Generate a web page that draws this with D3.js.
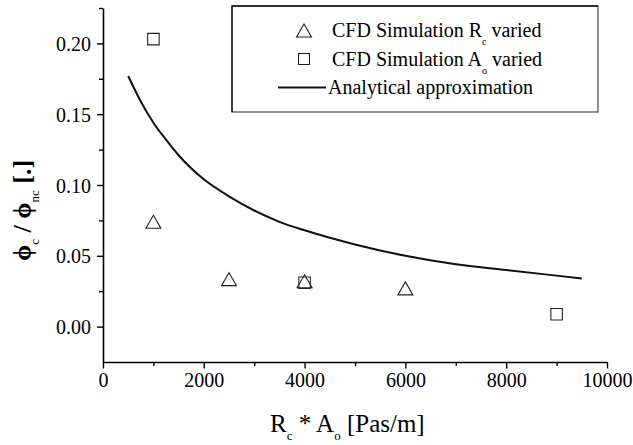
<!DOCTYPE html>
<html>
<head>
<meta charset="utf-8">
<script src="https://cdn.jsdelivr.net/npm/d3@7"></script>
<style>
  html, body { margin: 0; padding: 0; background: #fff; }
  svg { display: block; }
</style>
</head>
<body>
<svg id="chart" width="633" height="445"></svg>
<script>
// CFD results, R_c varied (x = R_c * A_o in Pas/m, y = phi_c / phi_nc)
const rcX = [1000, 2500, 4000, 6000];
const rcY = [0.074, 0.0335, 0.032, 0.027];

// CFD results, A_o varied
const aoX = [1000, 4000, 9000];
const aoY = [0.203, 0.031, 0.0087];

// Analytical approximation curve
const curveX = [500, 750, 1000, 1250, 1500, 2000, 2500, 3000, 3500, 4000, 5000, 6000, 7000, 8000, 9000, 9500];
const curveY = [0.177, 0.159, 0.144, 0.132, 0.121, 0.104, 0.092, 0.082, 0.074, 0.068, 0.058, 0.050, 0.044, 0.040, 0.036, 0.034];

// Axis ticks
const xTicks = [0, 2000, 4000, 6000, 8000, 10000];
const xMinor = [1000, 3000, 5000, 7000, 9000];
const yTicks = [0.00, 0.05, 0.10, 0.15, 0.20];
const yMinor = [0.025, 0.075, 0.125, 0.175, 0.225];

const legendLabels = [
  { main: "CFD Simulation R", sub: "c", tail: " varied" },
  { main: "CFD Simulation A", sub: "o", tail: " varied" },
  { main: "Analytical approximation", sub: "", tail: "" }
];

const FONT = "'Liberation Serif', 'Times New Roman', serif";
const svg = d3.select("#chart");

const x = d3.scaleLinear().domain([0, 10000]).range([103, 607]);
const y = d3.scaleLinear().domain([-0.025, 0.225]).range([362, 8]);

const ink = "#000";

// Axes
const xAxis = svg.append("g").attr("transform", `translate(0,${y.range()[0]})`)
  .call(d3.axisBottom(x).tickValues(xTicks).tickFormat(d3.format("d")).tickSize(6.5).tickSizeOuter(0).tickPadding(4));
svg.append("g").attr("transform", `translate(0,${y.range()[0]})`)
  .call(d3.axisBottom(x).tickValues(xMinor).tickFormat("").tickSize(4).tickSizeOuter(0))
  .select(".domain").remove();

const yAxis = svg.append("g").attr("transform", `translate(${x.range()[0]},0)`)
  .call(d3.axisLeft(y).tickValues(yTicks).tickFormat(d3.format(".2f")).tickSize(6).tickSizeOuter(0).tickPadding(6));
svg.append("g").attr("transform", `translate(${x.range()[0]},0)`)
  .call(d3.axisLeft(y).tickValues(yMinor).tickFormat("").tickSize(4).tickSizeOuter(0))
  .select(".domain").remove();

svg.selectAll(".domain").attr("stroke", ink).attr("stroke-width", 1.6);
svg.selectAll(".tick line").attr("stroke", ink).attr("stroke-width", 1.4);
svg.selectAll(".tick text")
  .style("font-family", FONT)
  .style("font-size", "20px")
  .attr("fill", ink);
xAxis.selectAll(".tick text").attr("dy", "0.71em");
yAxis.selectAll(".tick text").attr("dy", "0.35em");

// Analytical curve
const line = d3.line().x((d, i) => x(curveX[i])).y((d, i) => y(curveY[i])).curve(d3.curveMonotoneX);
svg.append("path")
  .datum(curveX)
  .attr("d", line)
  .attr("fill", "none")
  .attr("stroke", "#111")
  .attr("stroke-width", 2);

// Markers
const triPath = (cx, cy, w, h) =>
  `M${cx},${cy - h / 2}L${cx + w / 2},${cy + h / 2}L${cx - w / 2},${cy + h / 2}Z`;
const sqPath = (cx, cy, s) =>
  `M${cx - s / 2},${cy - s / 2}h${s}v${s}h${-s}Z`;

svg.append("g").selectAll("path")
  .data(rcX)
  .join("path")
  .attr("d", (d, i) => triPath(x(d), y(rcY[i]), 15, 13))
  .attr("fill", "none")
  .attr("stroke", "#222")
  .attr("stroke-width", 1.1);

svg.append("g").selectAll("path")
  .data(aoX)
  .join("path")
  .attr("d", (d, i) => sqPath(x(d), y(aoY[i]), 11.5))
  .attr("fill", "none")
  .attr("stroke", "#222")
  .attr("stroke-width", 1.1);

// Legend
const lg = svg.append("g");
lg.append("rect")
  .attr("x", 232).attr("y", 6)
  .attr("width", 366).attr("height", 106)
  .attr("fill", "#fff")
  .attr("stroke", "#555")
  .attr("stroke-width", 1.3);
// darker top and left edges of the frame
lg.append("path")
  .attr("d", "M232,112V6H598")
  .attr("fill", "none")
  .attr("stroke", "#111")
  .attr("stroke-width", 1.3);

const rowY = [30.5, 59, 87.5];
lg.append("path").attr("d", triPath(304, rowY[0], 15, 13))
  .attr("fill", "none").attr("stroke", "#222").attr("stroke-width", 1.1);
lg.append("path").attr("d", sqPath(304, rowY[1], 11))
  .attr("fill", "none").attr("stroke", "#222").attr("stroke-width", 1.1);
lg.append("line").attr("x1", 278).attr("x2", 326).attr("y1", rowY[2]).attr("y2", rowY[2])
  .attr("stroke", "#111").attr("stroke-width", 2);

legendLabels.forEach((lab, i) => {
  const t = lg.append("text")
    .attr("x", lab.sub ? 332 : 328)
    .attr("y", rowY[i] + 6.5)
    .style("font-family", FONT)
    .style("font-size", "20px");
  t.append("tspan").text(lab.main);
  if (lab.sub) {
    t.append("tspan").style("font-size", "10px").attr("dy", 8).text(lab.sub);
    t.append("tspan").attr("dy", -8).text(lab.tail);
  }
});

// Axis titles
const xt = svg.append("text")
  .attr("x", 270).attr("y", 432)
  .style("font-family", FONT)
  .style("font-size", "25px");
xt.append("tspan").text("R");
xt.append("tspan").style("font-size", "13px").attr("dy", 8).text("c");
xt.append("tspan").attr("dy", -8).text(" * A");
xt.append("tspan").style("font-size", "13px").attr("dy", 8).text("o");
xt.append("tspan").attr("dy", -8).text(" [Pas/m]");

const yt = svg.append("text")
  .attr("transform", "translate(31,261) rotate(-90)")
  .style("font-family", FONT)
  .style("font-size", "26px")
  .style("font-weight", "bold");
yt.append("tspan").text("\u03D5");
yt.append("tspan").style("font-size", "13px").style("font-weight", "normal").attr("dy", 8).text("c");
yt.append("tspan").attr("dy", -8).text(" / \u03D5");
yt.append("tspan").style("font-size", "13px").style("font-weight", "normal").attr("dy", 8).text("nc");
yt.append("tspan").attr("dy", -8).text(" [.]");
</script>
</body>
</html>
